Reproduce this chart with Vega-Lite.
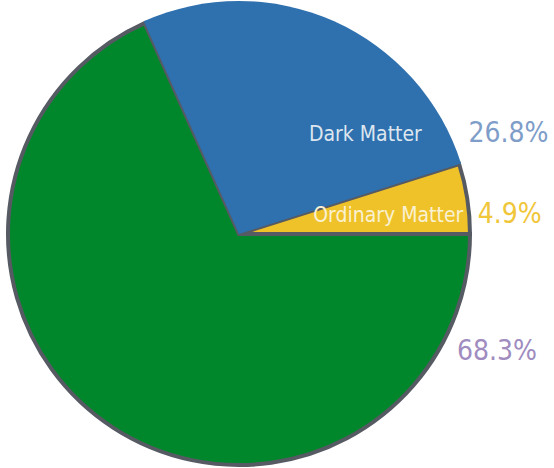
{
  "$schema": "https://vega.github.io/schema/vega-lite/v6.json",
  "width": 478,
  "height": 468,
  "autosize": {"type": "none"},
  "padding": {"left": 0, "top": 0, "right": 76, "bottom": 0},
  "background": "white",
  "config": {"view": {"stroke": null}},
  "data": {
    "values": [
      {"category": "Dark Energy", "value": 68.3, "label": "", "percent": "68.3%"},
      {"category": "Dark Matter", "value": 26.8, "label": "Dark Matter", "percent": "26.8%"},
      {"category": "Ordinary Matter", "value": 4.9, "label": "Ordinary Matter", "percent": "4.9%"}
    ]
  },
  "encoding": {
    "theta": {"field": "value", "type": "quantitative", "stack": true, "scale": {"range": [1.5708, 7.8540]}},
    "order": {"field": "category", "type": "nominal", "sort": "ascending"}
  },
  "layer": [
    {
      "mark": {"type": "arc", "radius": 231, "stroke": "#565a62", "strokeWidth": 4, "strokeJoin": "miter"},
      "encoding": {
        "color": {"field": "category", "type": "nominal", "legend": null,
          "scale": {"domain": ["Dark Energy", "Dark Matter", "Ordinary Matter"], "range": ["#00872b", "#2f70ae", "#efc22a"]}},
        "opacity": {"condition": {"test": "datum.category === 'Dark Matter'", "value": 0}, "value": 1}
      }
    },
    {
      "mark": {"type": "arc", "radius": 233, "strokeWidth": 0},
      "encoding": {
        "color": {"field": "category", "type": "nominal", "legend": null},
        "opacity": {"condition": {"test": "datum.category === 'Dark Matter'", "value": 1}, "value": 0}
      }
    },
    {
      "mark": {"type": "text", "radius": 160, "dx": 61, "dy": 47, "fontSize": 21, "font": "DejaVu Sans Condensed", "fill": "#dde6ef", "align": "center", "baseline": "middle"},
      "encoding": {"text": {"condition": {"test": "datum.category === 'Dark Matter'", "field": "label"}, "value": ""}}
    },
    {
      "mark": {"type": "text", "radius": 150, "dx": 1, "dy": 5, "fontSize": 21, "font": "DejaVu Sans Condensed", "fill": "#faf1d2", "align": "center", "baseline": "middle"},
      "encoding": {"text": {"condition": {"test": "datum.category === 'Ordinary Matter'", "field": "label"}, "value": ""}}
    },
    {
      "mark": {"type": "text", "radius": 272, "dx": 2, "dy": 23, "fontSize": 28, "font": "DejaVu Sans Condensed", "fill": "#f0c63a", "align": "center", "baseline": "middle"},
      "encoding": {"text": {"condition": {"test": "datum.category === 'Ordinary Matter'", "field": "percent"}, "value": ""}}
    },
    {
      "mark": {"type": "text", "radius": 160, "dx": 204, "dy": 46, "fontSize": 28, "font": "DejaVu Sans Condensed", "fill": "#7e9dc8", "align": "center", "baseline": "middle"},
      "encoding": {"text": {"condition": {"test": "datum.category === 'Dark Matter'", "field": "percent"}, "value": ""}}
    },
    {
      "mark": {"type": "text", "radius": 0, "dx": 258, "dy": 118, "fontSize": 28, "font": "DejaVu Sans Condensed", "fill": "#a08cbf", "align": "center", "baseline": "middle"},
      "encoding": {"text": {"condition": {"test": "datum.category === 'Dark Energy'", "field": "percent"}, "value": ""}}
    }
  ]
}
